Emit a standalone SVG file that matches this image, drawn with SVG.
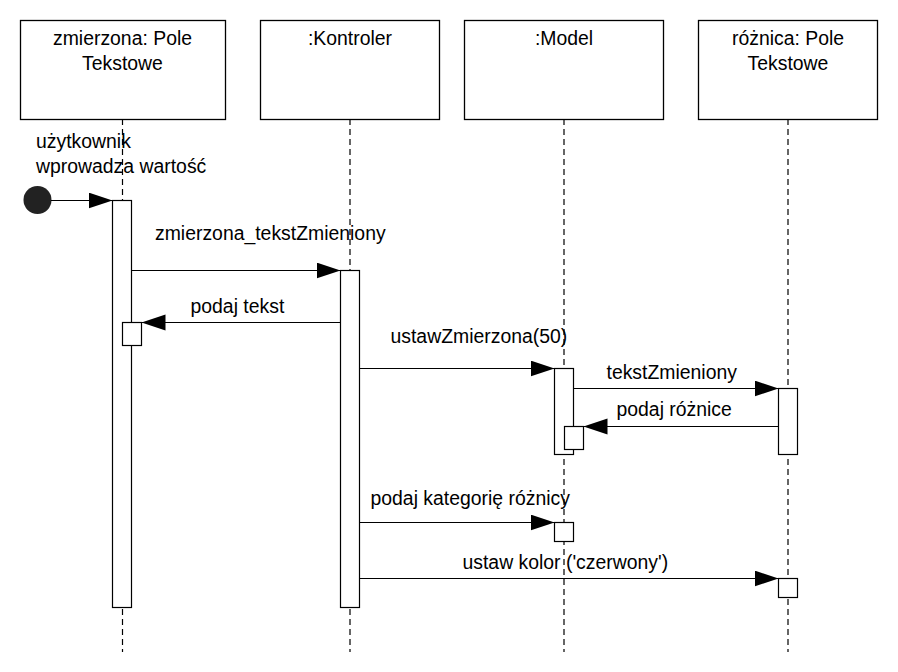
<svg xmlns="http://www.w3.org/2000/svg" width="898" height="672" viewBox="0 0 898 672">
<defs>
<style>
text{font-family:"Liberation Sans",Arial,sans-serif;font-size:19.4px;fill:#000}
.box{fill:#fff;stroke:#000;stroke-width:1.3}
.life{stroke:#000;stroke-width:1.2;stroke-dasharray:6,4;fill:none}
.act{fill:#fff;stroke:#000;stroke-width:1.2}
.msg{stroke:#000;stroke-width:1.2;fill:none;marker-end:url(#ah)}
.c{text-anchor:middle}
</style>
<marker id="ah" markerUnits="userSpaceOnUse" markerWidth="26" markerHeight="18" refX="24" refY="8" orient="auto">
<path d="M0,0 L24,8 L0,16 Z" fill="#000"/>
</marker>
</defs>
<rect width="898" height="672" fill="#fff"/>
<g id="lifelines">
<line class="life" x1="122.5" y1="119" x2="122.5" y2="652"/>
<line class="life" x1="350" y1="119" x2="350" y2="652"/>
<line class="life" x1="564" y1="119" x2="564" y2="652"/>
<line class="life" x1="788" y1="119" x2="788" y2="652"/>
</g>
<g id="n1">
<rect class="box" x="20.5" y="20.5" width="205" height="99"/>
<text class="c" x="122.5" y="45">zmierzona: Pole</text>
<text class="c" x="122.5" y="70">Tekstowe</text>
</g>
<g id="n2">
<rect class="box" x="260.5" y="20.5" width="179" height="99"/>
<text class="c" x="350" y="45">:Kontroler</text>
</g>
<g id="n3">
<rect class="box" x="464.5" y="20.5" width="199" height="99"/>
<text class="c" x="564" y="45">:Model</text>
</g>
<g id="n4">
<rect class="box" x="698.5" y="20.5" width="179" height="99"/>
<text class="c" x="788" y="45">różnica: Pole</text>
<text class="c" x="788" y="70">Tekstowe</text>
</g>
<g id="start">
<circle cx="37.5" cy="200" r="14" fill="#222"/>
<text x="36" y="148">użytkownik</text>
<text x="36" y="173">wprowadza wartość</text>
</g>
<g id="activations">
<rect class="act" x="112.5" y="200.5" width="19" height="407"/>
<rect class="act" x="122.5" y="322.5" width="19" height="23"/>
<rect class="act" x="340.5" y="270.5" width="19" height="337"/>
<rect class="act" x="554.5" y="368.5" width="19" height="86"/>
<rect class="act" x="564.5" y="426.5" width="19" height="23"/>
<rect class="act" x="778.5" y="388.5" width="19" height="66"/>
<rect class="act" x="554.5" y="522.5" width="19" height="19"/>
<rect class="act" x="778.5" y="578.5" width="19" height="19"/>
</g>
<g id="connectors">
<line class="msg" x1="51" y1="200.5" x2="112.5" y2="200.5"/>
<line class="msg" x1="131.5" y1="270.5" x2="340.5" y2="270.5"/>
<line class="msg" x1="340.5" y1="322.5" x2="141.5" y2="322.5"/>
<line class="msg" x1="359.5" y1="368.5" x2="554.5" y2="368.5"/>
<line class="msg" x1="573.5" y1="388.5" x2="778.5" y2="388.5"/>
<line class="msg" x1="778.5" y1="426.5" x2="583.5" y2="426.5"/>
<line class="msg" x1="359.5" y1="522.5" x2="554.5" y2="522.5"/>
<line class="msg" x1="359.5" y1="578.5" x2="778.5" y2="578.5"/>
</g>
<g id="labels">
<text x="155" y="240">zmierzona_tekstZmieniony</text>
<text x="190.5" y="312.5">podaj tekst</text>
<text x="390.5" y="342.5">ustawZmierzona(50)</text>
<text x="606.5" y="378.5">tekstZmieniony</text>
<text x="616.5" y="416">podaj różnice</text>
<text x="370.5" y="505">podaj kategorię różnicy</text>
<text x="462.5" y="568.5">ustaw kolor ('czerwony')</text>
</g>
</svg>
